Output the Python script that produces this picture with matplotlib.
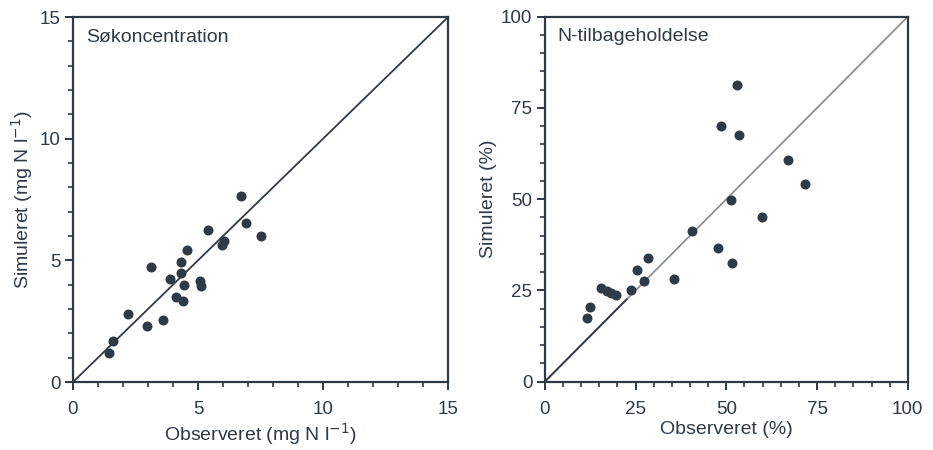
"""Simuleret mod observeret: søkoncentration og N-tilbageholdelse."""

import matplotlib
matplotlib.use("Agg")
import matplotlib.pyplot as plt
from matplotlib.ticker import MultipleLocator

plt.rcParams["font.family"] = ["Liberation Sans", "DejaVu Sans"]

INK = "#2e3a46"

# Søkoncentration (mg N l-1)
conc_obs = [1.44, 1.60, 2.21, 2.95, 3.13, 3.60, 3.87, 4.13, 4.39, 4.31, 4.31,
            4.45, 4.56, 5.07, 5.13, 5.41, 5.97, 6.03, 6.73, 6.91, 7.53]
conc_sim = [1.19, 1.68, 2.78, 2.32, 4.71, 2.56, 4.22, 3.51, 3.34, 4.93, 4.49,
            3.97, 5.44, 4.15, 3.95, 6.26, 5.62, 5.78, 7.63, 6.55, 6.01]

# N-tilbageholdelse (%)
ret_obs = [11.5, 12.5, 15.5, 17.0, 18.3, 19.7, 23.6, 25.5, 27.2, 28.5, 35.7,
           40.6, 47.8, 48.6, 51.2, 51.6, 52.8, 53.5, 59.7, 67.0, 71.8]
ret_sim = [17.4, 20.5, 25.6, 24.9, 24.2, 23.7, 25.1, 30.6, 27.6, 34.0, 28.2,
           41.4, 36.6, 70.1, 49.7, 32.4, 81.3, 67.6, 45.2, 60.7, 54.1]

conc_ticks = [0, 5, 10, 15]
ret_ticks = [0, 25, 50, 75, 100]


def style_axes(ax, ticks, minor, title, xlabel, ylabel):
    lim = (ticks[0], ticks[-1])
    ax.set_xlim(lim)
    ax.set_ylim(lim)
    ax.set_xticks(ticks)
    ax.set_yticks(ticks)
    ax.xaxis.set_minor_locator(MultipleLocator(minor))
    ax.yaxis.set_minor_locator(MultipleLocator(minor))
    ax.tick_params(which="major", direction="out", length=6, width=1.4,
                   color=INK, labelcolor=INK, labelsize=13.5, pad=3)
    ax.tick_params(axis="x", which="major", pad=8)
    ax.tick_params(which="minor", direction="out", length=3.5, width=1.2,
                   color=INK)
    for sp in ax.spines.values():
        sp.set_linewidth(1.6)
        sp.set_color(INK)
    ax.set_xlabel(xlabel, fontsize=14, color=INK, labelpad=2)
    ax.set_ylabel(ylabel, fontsize=14, color=INK, labelpad=3)
    ax.text(0.035, 0.968, title, transform=ax.transAxes, ha="left", va="top",
            fontsize=14, color=INK)


fig = plt.figure(figsize=(9.33, 4.5), dpi=100)

ax1 = fig.add_axes([0.0782, 0.151, 0.402, 0.811])
ax1.plot([0, 15], [0, 15], color=INK, lw=1.3, zorder=1)
ax1.plot(conc_obs, conc_sim, "o", ms=7.2, color=INK, mec="none", zorder=2)
style_axes(ax1, conc_ticks, 1, "Søkoncentration",
           "Observeret (mg N l$^{-1}$)", "Simuleret (mg N l$^{-1}$)")

ax2 = fig.add_axes([0.584, 0.152, 0.389, 0.811])
ax2.plot([0, 100], [0, 100], color="#8a9096", lw=1.3, zorder=1)
ax2.plot([0, 22.5], [0, 22.5], color=INK, lw=1.3, zorder=1)
ax2.plot(ret_obs, ret_sim, "o", ms=7.2, color=INK, mec="none", zorder=2)
style_axes(ax2, ret_ticks, 5, "N-tilbageholdelse",
           "Observeret (%)", "Simuleret (%)")

fig.savefig("out.png", dpi=100)
